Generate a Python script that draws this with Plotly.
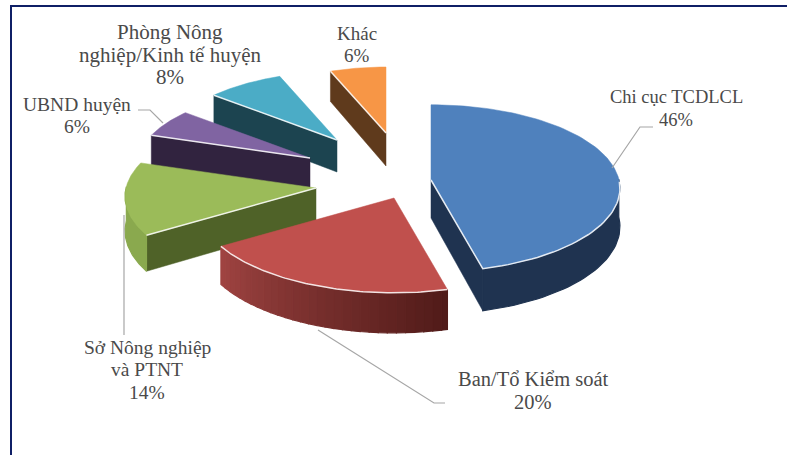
import numpy as np
import plotly.graph_objects as go

# Shares of each body, clockwise from twelve o'clock
categories = ["Chi cục TCDLCL", "Ban/Tổ Kiểm soát", "Sở Nông nghiệp và PTNT",
              "UBND huyện", "Phòng Nông nghiệp/Kinh tế huyện", "Khác"]
values = [46, 20, 14, 6, 8, 6]
label_lines = [["Chi cục TCDLCL", "46%"], ["Ban/Tổ Kiểm soát", "20%"],
               ["Sở Nông nghiệp", "và PTNT", "14%"], ["UBND huyện", "6%"],
               ["Phòng Nông", "nghiệp/Kinh tế huyện", "8%"], ["Khác", "6%"]]

# Styling per slice
top_colors = ["#4f81bd", "#c0504d", "#9bbb59", "#8064a2", "#4bacc6", "#f79646"]
wall_colors = ["#1f3350", "#4f1a18", "#4f6228", "#31233f", "#1c4450", "#5f3a1c"]
rim_start = ["#1f3350", "#4f1a18", "#8aa94e", "#31233f", "#1c4450", "#5f3a1c"]
rim_end = ["#1f3350", "#a04442", "#8aa94e", "#31233f", "#1c4450", "#5f3a1c"]
label_sizes = [18.5, 20.5, 19.5, 19.5, 21, 19]

# Exploded pie layout in page pixels: where each slice's tip sits, its radius, wall height
tip_x = [431, 394, 316, 310, 337, 386]
tip_y = [180, 198, 188, 158, 140, 133]
radius = [188, 194, 190, 172, 170, 165]
depth = [38, 36, 34, 33, 32, 33]
TILT = 0.44
PERSPECTIVE = 0.10
DRAW_ORDER = [5, 4, 3, 2, 0, 1]

label_x = [676, 533, 147, 77, 170, 357]
label_y = [97, 379, 347, 104, 32, 33]
LINE_PITCH = 22.5
leaders = [
    ([612, 640, 653], [168, 127, 127]),
    ([318, 434, 445], [330, 403, 403]),
    ([124, 124], [215, 335]),
    ([163, 150, 138], [123, 110, 110]),
]

cum = np.cumsum([0] + values) / sum(values) * 360.0


def project(i, theta_deg, drop=0.0):
    """Page position of the rim point at an angle on slice i, lowered by drop."""
    t = np.radians(theta_deg)
    s = 1.0 / (1.0 + PERSPECTIVE * np.cos(t))
    x = tip_x[i] + radius[i] * np.sin(t) * s
    y = tip_y[i] - radius[i] * TILT * np.cos(t) * s + drop * s
    return x, y


def poly(xs, ys, color, line_width=0.5):
    xs = np.append(xs, xs[0])
    ys = np.append(ys, ys[0])
    return go.Scatter(x=xs, y=ys, mode="lines", fill="toself", fillcolor=color,
                      line=dict(color=color, width=line_width),
                      hoverinfo="skip", showlegend=False)


def mix(a, b, f):
    ca = [int(a[k:k + 2], 16) for k in (1, 3, 5)]
    cb = [int(b[k:k + 2], 16) for k in (1, 3, 5)]
    return "rgb({},{},{})".format(*[round(p + (q - p) * f) for p, q in zip(ca, cb)])


fig = go.Figure()

for i in DRAW_ORDER:
    a0, a1 = cum[i], cum[i + 1]
    arc = np.linspace(a0, a1, 90)
    ax, ay = project(i, arc)

    # Flat cut face: blue shows its closing edge, the rear slices their opening edge
    if i != 1:
        edge = a1 if i == 0 else a0
        ex, ey = project(i, edge)
        ex_low, ey_low = project(i, edge, depth[i])
        fig.add_trace(poly(np.array([tip_x[i], ex, ex_low, tip_x[i]]),
                           np.array([tip_y[i], ey, ey_low, tip_y[i] + depth[i]]),
                           wall_colors[i]))

    # Outer rim, only where it turns towards the viewer
    front = arc[(np.cos(np.radians(arc)) < 0.02)]
    if i in (0, 1, 2) and front.size:
        steps = 30 if i == 1 else 1
        cuts = np.linspace(0, front.size - 1, steps + 1).astype(int)
        for k in range(steps):
            seg = front[cuts[k]:cuts[k + 1] + 1]
            sx, sy = project(i, seg)
            lx, ly = project(i, seg, depth[i])
            color = mix(rim_start[i], rim_end[i], (k + 0.5) / steps)
            fig.add_trace(poly(np.concatenate([sx, lx[::-1]]),
                               np.concatenate([sy, ly[::-1]]), color, line_width=1.2))

    # Top surface with its pale outline along the near edges
    fig.add_trace(poly(np.concatenate([[tip_x[i]], ax]),
                       np.concatenate([[tip_y[i]], ay]), top_colors[i]))
    if i == 1:
        hx, hy = ax, ay
    elif i == 0:
        hx = np.concatenate([ax[arc > 90], [tip_x[i]]])
        hy = np.concatenate([ay[arc > 90], [tip_y[i]]])
    else:
        ex, ey = project(i, a0)
        hx, hy = np.array([ex, tip_x[i]]), np.array([ey, tip_y[i]])
    fig.add_trace(go.Scatter(x=hx, y=hy, mode="lines",
                             line=dict(color="rgba(255,255,255,0.85)", width=1.5),
                             hoverinfo="skip", showlegend=False))

for lx, ly in leaders:
    fig.add_trace(go.Scatter(x=lx, y=ly, mode="lines",
                             line=dict(color="#a6a6a6", width=1.2),
                             hoverinfo="skip", showlegend=False))

for lines, x, y, size in zip(label_lines, label_x, label_y, label_sizes):
    for n, line in enumerate(lines):
        fig.add_annotation(x=x, y=y + n * LINE_PITCH, text=line, showarrow=False,
                           xanchor="center", yanchor="middle",
                           font=dict(family="Liberation Serif", size=size, color="#4a4a4a"))

# Navy rule along the top and left of the chart area
fig.add_trace(go.Scatter(x=[11, 11, 787], y=[455, 6, 6], mode="lines",
                         line=dict(color="#0f1f66", width=2),
                         hoverinfo="skip", showlegend=False))

fig.update_xaxes(range=[0, 787], visible=False, fixedrange=True)
fig.update_yaxes(range=[455, 0], visible=False, fixedrange=True)
fig.update_layout(width=787, height=455, margin=dict(l=0, r=0, t=0, b=0),
                  paper_bgcolor="white", plot_bgcolor="white", showlegend=False)

fig.write_html("out.html")
